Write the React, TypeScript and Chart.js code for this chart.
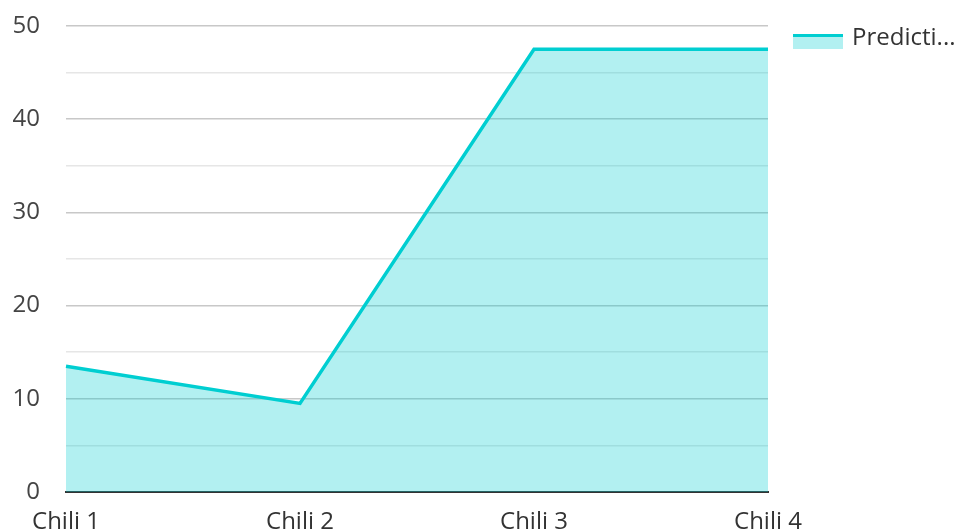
import React, { useEffect, useRef } from "react";
import { Chart, registerables } from "chart.js";

Chart.register(...registerables);

const categories = ["Chili 1", "Chili 2", "Chili 3", "Chili 4"];
const predictionValues = [13.5, 9.5, 47.5, 47.5];
const seriesLabel = "Predicti...";
const yTicks = [0, 10, 20, 30, 40, 50];

const LINE = "#00ced1";
const FILL = "rgba(0, 206, 209, 0.3)";
const FONT = "'Open Sans', 'Noto Sans', sans-serif";

export default function App() {
  const ref = useRef<HTMLCanvasElement | null>(null);

  useEffect(() => {
    if (!ref.current) return;
    const legendPlugin = {
      id: "customLegend",
      afterDraw(chart: any) {
        const ctx = chart.ctx;
        ctx.save();
        const x = 793, y = 34, w = 50, h = 15;
        ctx.fillStyle = FILL;
        ctx.fillRect(x, y, w, h);
        ctx.fillStyle = LINE;
        ctx.fillRect(x, y, w, 3);
        ctx.fillStyle = "#333333";
        ctx.font = `24px ${FONT}`;
        ctx.textBaseline = "middle";
        ctx.textAlign = "left";
        ctx.fillText(seriesLabel, 852, 38);
        ctx.restore();
      },
    };
    const chart = new Chart(ref.current, {
      type: "line",
      data: {
        labels: categories,
        datasets: [
          {
            label: seriesLabel,
            data: predictionValues,
            borderColor: LINE,
            backgroundColor: FILL,
            borderWidth: 3.5,
            fill: "origin",
            pointRadius: 0,
            tension: 0,
          },
        ],
      },
      options: {
        animation: false,
        responsive: false,
        maintainAspectRatio: false,
        layout: { padding: { top: 26, right: 190, left: 0, bottom: 0 } },
        plugins: { legend: { display: false }, tooltip: { enabled: false } },
        scales: {
          x: {
            offset: false,
            grid: { display: false, drawTicks: false },
            border: { display: true, color: "#333333", width: 2 },
            ticks: {
              color: "#333333",
              font: { family: FONT, size: 24 },
              padding: 16,
              maxRotation: 0,
              autoSkip: false,
            },
            afterFit(scale: any) {
              scale.height = 68;
              scale.paddingLeft = 0;
              scale.paddingRight = 0;
            },
          },
          y: {
            min: 0,
            max: 50,
            afterBuildTicks(scale: any) {
              const t: any[] = [];
              for (let v = 0; v <= 50; v += 5) t.push({ value: v });
              scale.ticks = t;
            },
            grid: {
              drawTicks: false,
              color: (c: any) =>
                yTicks.includes(c.tick?.value) ? "#c8c8c8" : "#e6e6e6",
              lineWidth: 1.5,
            },
            border: { display: false },
            ticks: {
              color: "#444444",
              font: { family: FONT, size: 24 },
              padding: 26,
              callback: (v: any) => (yTicks.includes(Number(v)) ? String(v) : ""),
            },
            afterFit(scale: any) {
              scale.width = 66;
              scale.paddingTop = 0;
              scale.paddingBottom = 0;
            },
          },
        },
      },
      plugins: [legendPlugin],
    });
    return () => chart.destroy();
  }, []);

  return (
    <div style={{ position: "fixed", left: 0, top: 0, width: 958, height: 532, overflow: "hidden", background: "#fff" }}>
      <canvas ref={ref} width={958} height={560} style={{ display: "block" }} />
    </div>
  );
}
